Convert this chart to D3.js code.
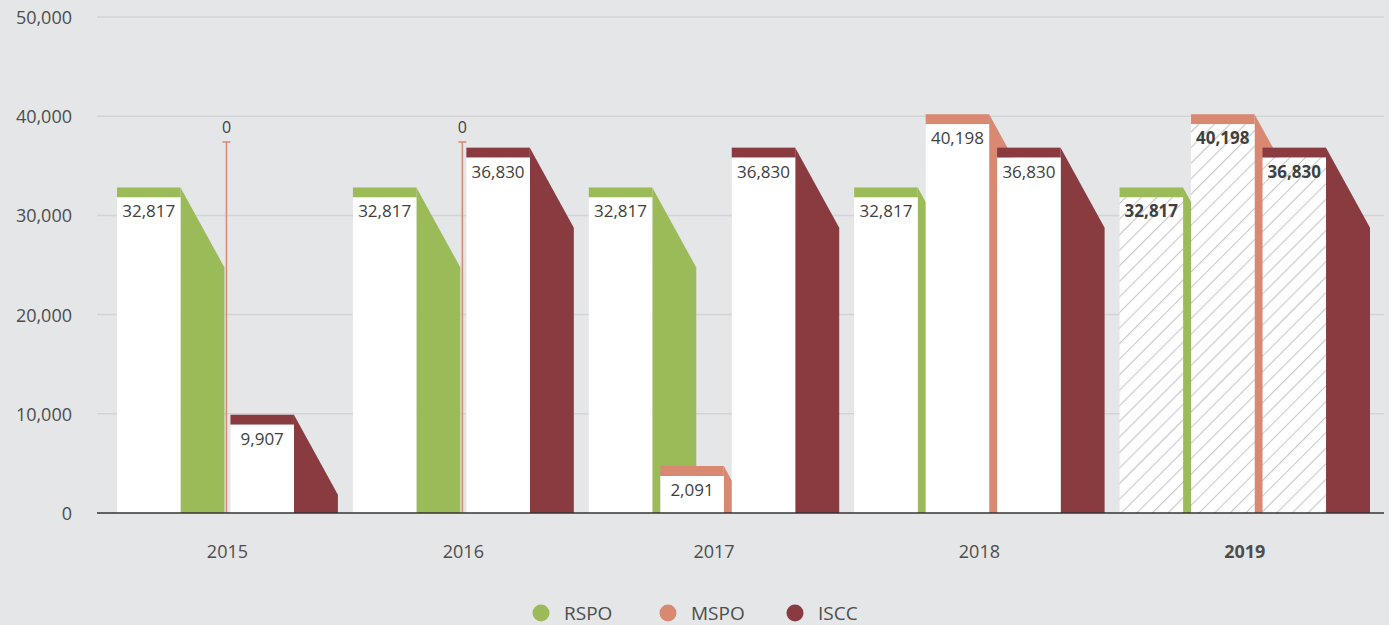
<!DOCTYPE html>
<html>
<head>
<meta charset="utf-8">
<title>Certified volume by scheme</title>
<script src="https://d3js.org/d3.v7.min.js"></script>
<style>
  html, body { margin: 0; padding: 0; background: #e5e6e8; }
  svg { display: block; font-family: "Open Sans", "Noto Sans", sans-serif; }
</style>
</head>
<body>
<script>
  // data
  const years = ["2015", "2016", "2017", "2018", "2019"];
  const rspo = [32817, 32817, 32817, 32817, 32817];
  const mspo = [0, 0, 2091, 40198, 40198];
  const iscc = [9907, 36830, 36830, 36830, 36830];
  const seriesNames = ["RSPO", "MSPO", "ISCC"];
  const yTicks = [0, 10000, 20000, 30000, 40000, 50000];
  const highlightYear = "2019";
  const zeroStemValue = 37400;

  const width = 1389, height = 625;
  const colors = ["#9bbb59", "#d98871", "#893b40"];
  const series = [rspo, mspo, iscc];

  const svg = d3.select("body").append("svg")
    .attr("width", width)
    .attr("height", height);

  const defs = svg.append("defs");
  const pat = defs.append("pattern")
    .attr("id", "hatch")
    .attr("patternUnits", "userSpaceOnUse")
    .attr("width", 11).attr("height", 11)
    .attr("patternTransform", "rotate(45)");
  pat.append("rect").attr("width", 11).attr("height", 11).attr("fill", "#fff");
  pat.append("line")
    .attr("x1", 0).attr("y1", 0).attr("x2", 0).attr("y2", 11)
    .attr("stroke", "#c9c9c9").attr("stroke-width", 2.2);

  const y = d3.scaleLinear().domain([0, 50000]).range([513, 17]);
  const y0 = y(0);
  const minBarPx = 47; // small bars keep room for their label

  // gridlines + y labels
  const axisLeft = 97, axisRight = 1384;
  svg.append("g").selectAll("line")
    .data(yTicks.filter(d => d > 0)).join("line")
    .attr("x1", axisLeft).attr("x2", axisRight)
    .attr("y1", d => y(d)).attr("y2", d => y(d))
    .attr("stroke", "#d3d4d6").attr("stroke-width", 1.5);
  svg.append("g").selectAll("text")
    .data(yTicks).join("text")
    .attr("x", 72).attr("y", d => y(d))
    .attr("text-anchor", "end").attr("dominant-baseline", "central")
    .attr("font-size", 18).attr("fill", "#4d4d4d")
    .text(d => d3.format(",")(d));

  // layout in units, then mapped through a linear scale
  const side = 44, inner = 8, groupGap = 15, fw = 63.5, drop = 80, strip = 10;
  const groups = [];
  let cursor = 0;
  years.forEach((yr, i) => {
    const start = cursor;
    const bars = [];
    series.forEach((s, k) => {
      const v = s[i];
      if (v > 0) {
        bars.push({ k, v, x0: cursor, x1: cursor + fw });
        cursor += fw + (k < series.length - 1 ? inner : side);
      } else {
        cursor += side - inner + 2;
        bars.push({ k, v, x0: cursor, x1: cursor });
        cursor += 4;
      }
    });
    groups.push({ yr, i, start, end: cursor, bars });
    cursor += groupGap;
  });
  const total = cursor - groupGap;
  const x = d3.scaleLinear().domain([0, total]).range([117, 1370]);

  const plot = svg.append("g");
  groups.forEach(g => {
    const hl = g.yr === highlightYear;
    const gg = plot.append("g");
    g.bars.forEach(b => {
      const col = colors[b.k];
      const xl = x(b.x0), xr = x(b.x1);
      if (b.v === 0) {
        const yt = y(zeroStemValue);
        gg.append("line")
          .attr("x1", xl).attr("x2", xl).attr("y1", yt).attr("y2", y0)
          .attr("stroke", col).attr("stroke-width", 1.5);
        gg.append("line")
          .attr("x1", xl - 4).attr("x2", xl + 4).attr("y1", yt).attr("y2", yt)
          .attr("stroke", col).attr("stroke-width", 1.5);
        gg.append("text")
          .attr("x", xl).attr("y", yt - 9)
          .attr("text-anchor", "middle")
          .attr("font-size", 16).attr("fill", "#404040")
          .text("0");
        return;
      }
      const yt = Math.min(y(b.v), y0 - minBarPx);
      const sw = x(b.x1 + side) - xr;
      const t = Math.min(1, (y0 - yt) / drop);
      const pts = [[xr, yt], [xr + sw * t, yt + drop * t], [xr + sw * t, y0], [xr, y0]];
      gg.append("path")
        .attr("d", d3.line()(pts) + "Z")
        .attr("fill", col);
      gg.append("rect")
        .attr("x", xl).attr("y", yt)
        .attr("width", xr - xl).attr("height", strip)
        .attr("fill", col);
      gg.append("rect")
        .attr("x", xl).attr("y", yt + strip)
        .attr("width", xr - xl).attr("height", Math.max(0, y0 - yt - strip))
        .attr("fill", hl ? "url(#hatch)" : "#fff");
      gg.append("text")
        .attr("x", (xl + xr) / 2).attr("y", yt + 30)
        .attr("text-anchor", "middle")
        .attr("font-size", 17)
        .attr("font-weight", hl ? "bold" : "normal")
        .attr("fill", "#404040")
        .text(d3.format(",")(b.v));
    });
  });

  // baseline
  svg.append("line")
    .attr("x1", axisLeft).attr("x2", axisRight)
    .attr("y1", y0).attr("y2", y0)
    .attr("stroke", "#333").attr("stroke-width", 1.5);

  // x labels
  svg.append("g").selectAll("text")
    .data(groups).join("text")
    .attr("x", d => (x(d.start) + x(d.end)) / 2)
    .attr("y", 558)
    .attr("text-anchor", "middle")
    .attr("font-size", 18)
    .attr("font-weight", d => d.yr === highlightYear ? "bold" : "normal")
    .attr("fill", "#4d4d4d")
    .text(d => d.yr);

  // legend
  const legend = svg.append("g").attr("transform", "translate(541,613)");
  const legX = [0, 127, 254];
  seriesNames.forEach((n, k) => {
    const it = legend.append("g").attr("transform", `translate(${legX[k]},0)`);
    it.append("circle").attr("r", 8.5).attr("fill", colors[k]);
    it.append("text")
      .attr("x", 23).attr("y", 0)
      .attr("dominant-baseline", "central")
      .attr("font-size", 19).attr("fill", "#4d4d4d")
      .text(n);
  });
</script>
</body>
</html>
